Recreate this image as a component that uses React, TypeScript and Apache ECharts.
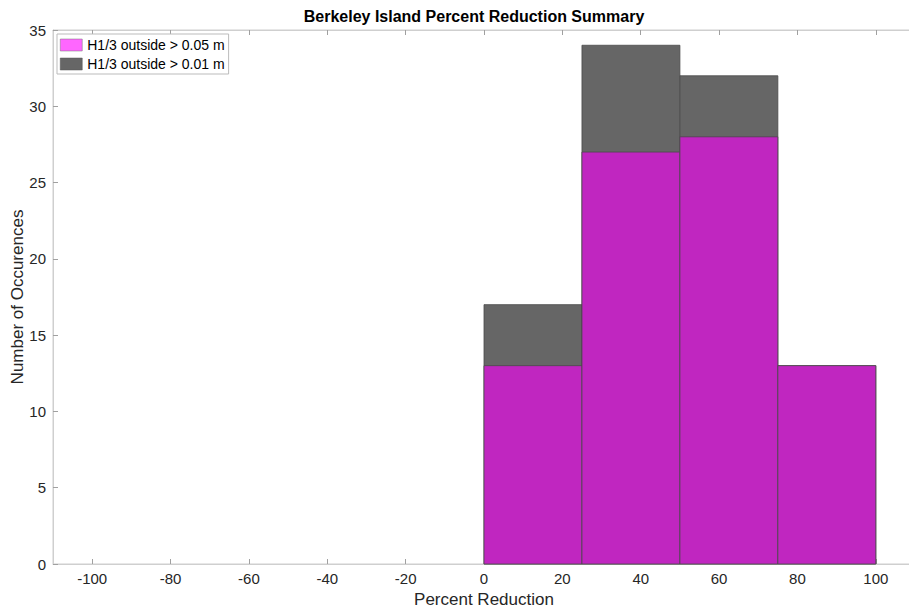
import React, { useEffect, useRef } from "react";
import * as echarts from "echarts";

const binEdges = [0, 25, 50, 75, 100];
const countsLow = [17, 34, 32, 13]; // H1/3 outside > 0.01 m
const countsHigh = [13, 27, 28, 13]; // H1/3 outside > 0.05 m
const xTicks = [-100, -80, -60, -40, -20, 0, 20, 40, 60, 80, 100];
const seriesNames = ["H1/3 outside > 0.05 m", "H1/3 outside > 0.01 m"];

const FONT = "'Liberation Sans', Arial, Helvetica, sans-serif";

function toBins(counts: number[]) {
  return counts.map((c, i) => [binEdges[i], binEdges[i + 1], c]);
}

function renderBar(color: string) {
  return (params: any, api: any) => {
    const x0 = api.value(0);
    const x1 = api.value(1);
    const v = api.value(2);
    const p0 = api.coord([x0, v]);
    const p1 = api.coord([x1, 0]);
    return {
      type: "rect",
      shape: { x: p0[0], y: p0[1], width: p1[0] - p0[0], height: p1[1] - p0[1] },
      style: { fill: color, stroke: "#4a4a4a", lineWidth: 0.8 },
    };
  };
}

export default function App() {
  const ref = useRef<HTMLDivElement>(null);
  useEffect(() => {
    if (!ref.current) return;
    const chart = echarts.init(ref.current, null, { renderer: "svg" });
    chart.setOption({
      animation: false,
      backgroundColor: "#ffffff",
      title: {
        text: "Berkeley Island Percent Reduction Summary",
        left: 469,
        top: 3,
        textAlign: "center",
        textStyle: { fontFamily: FONT, fontSize: 16, fontWeight: "bold", color: "#000" },
      },
      legend: {
        left: 57,
        top: 34,
        orient: "vertical",
        itemWidth: 22,
        itemHeight: 12,
        itemGap: 5,
        padding: [4, 4, 3, 3],
        borderColor: "#bbbbbb",
        borderWidth: 1,
        backgroundColor: "#ffffff",
        textStyle: { fontFamily: FONT, fontSize: 14, color: "#000" },
        data: [
          { name: seriesNames[0], icon: "rect", itemStyle: { color: "#FF66FF", borderColor: "#777", borderWidth: 0.5 } },
          { name: seriesNames[1], icon: "rect", itemStyle: { color: "#666666", borderColor: "#555", borderWidth: 0.5 } },
        ],
      },
      grid: {
        left: 53,
        right: 5,
        top: 30,
        bottom: 46,
        outerBoundsMode: "none",
        containLabel: false,
        show: true,
        borderColor: "#cfcfcf",
        borderWidth: 1,
      },
      xAxis: [
        {
          type: "value",
          min: -110,
          max: 110,
          name: "Percent Reduction",
          nameLocation: "middle",
          nameGap: 27,
          nameMoveOverlap: false,
          nameTextStyle: { fontFamily: FONT, fontSize: 17, color: "#262626" },
          axisLine: { show: true, lineStyle: { color: "#cfcfcf" } },
          axisTick: { show: true, inside: true, length: 5, lineStyle: { color: "#a0a0a0" }, customValues: xTicks },
          axisLabel: { fontFamily: FONT, fontSize: 15, color: "#262626", margin: 7, customValues: xTicks },
          splitLine: { show: false },
        },
        {
          type: "value",
          position: "top",
          min: -110,
          max: 110,
          axisLine: { show: true, lineStyle: { color: "#cfcfcf" } },
          axisTick: { show: true, inside: true, length: 5, lineStyle: { color: "#a0a0a0" }, customValues: xTicks },
          axisLabel: { show: false },
          splitLine: { show: false },
        },
      ],
      yAxis: {
        type: "value",
        min: 0,
        max: 35,
        interval: 5,
        name: "Number of Occurences",
        nameLocation: "middle",
        nameGap: 27,
        nameMoveOverlap: false,
        nameTextStyle: { fontFamily: FONT, fontSize: 17, color: "#262626" },
        axisLine: { show: true, onZero: false, lineStyle: { color: "#cfcfcf" } },
        axisTick: { show: true, inside: true, length: 5, lineStyle: { color: "#a0a0a0" } },
        axisLabel: { fontFamily: FONT, fontSize: 15, color: "#262626", margin: 7 },
        splitLine: { show: false },
      },
      series: [
        {
          name: seriesNames[1],
          type: "custom",
          xAxisIndex: 0,
          renderItem: renderBar("#666666"),
          encode: { x: [0, 1], y: 2 },
          data: toBins(countsLow),
          z: 2,
        },
        {
          name: seriesNames[0],
          type: "custom",
          xAxisIndex: 0,
          renderItem: renderBar("#C026C0"),
          encode: { x: [0, 1], y: 2 },
          data: toBins(countsHigh),
          z: 3,
        },
      ],
    });
    return () => chart.dispose();
  }, []);
  return (
    <div
      style={{ position: "absolute", left: 0, top: 0, width: 909, height: 610, overflow: "hidden" }}
    >
      <div ref={ref} style={{ width: 920, height: 610 }} />
    </div>
  );
}
